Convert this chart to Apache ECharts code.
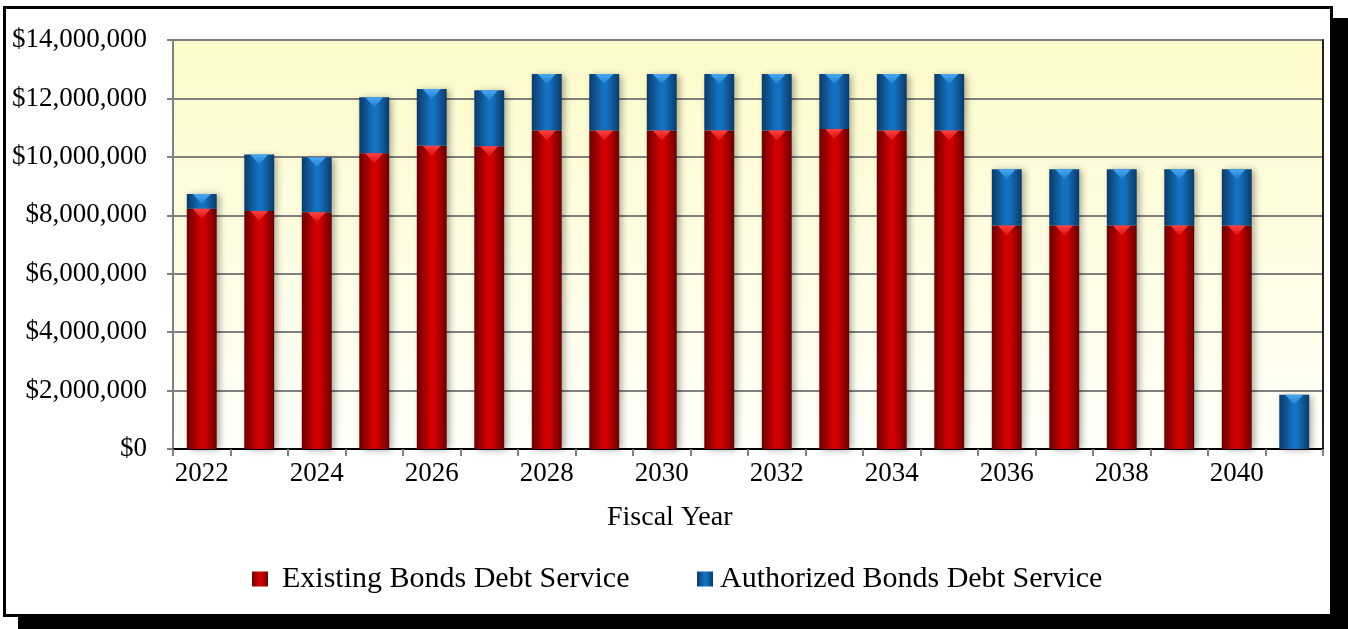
<!DOCTYPE html>
<html>
<head>
<meta charset="utf-8">
<script src="https://cdn.jsdelivr.net/npm/echarts@6/dist/echarts.min.js"></script>
<style>
  html, body { margin: 0; padding: 0; background: #fff; }
  #frame { position: absolute; left: 3px; top: 6px; width: 1330px; height: 611px; box-sizing: border-box;
           border: 3px solid #000; background: #fff; box-shadow: 15px 12px 0 0 #000; }
  #chart { position: absolute; left: 0; top: 0; width: 1348px; height: 629px; }
</style>
</head>
<body>
<div id="frame"></div>
<div id="chart"></div>
<script>
const years = ['2022','2023','2024','2025','2026','2027','2028','2029','2030','2031','2032','2033','2034','2035','2036','2037','2038','2039','2040','2041'];
const existingBonds = [8220000, 8150000, 8100000, 10120000, 10380000, 10360000, 10900000, 10900000, 10900000, 10900000, 10900000, 10950000, 10900000, 10900000, 7650000, 7650000, 7650000, 7650000, 7650000, 0];
const authorizedBonds = [510000, 1930000, 1890000, 1920000, 1940000, 1920000, 1940000, 1940000, 1940000, 1940000, 1940000, 1890000, 1940000, 1940000, 1930000, 1930000, 1930000, 1930000, 1930000, 1860000];
const yTicks = { min: 0, max: 14000000, interval: 2000000 };
const seriesNames = ['Existing Bonds Debt Service', 'Authorized Bonds Debt Service'];

// cumulative tops (for the bevel decoration), built from the arrays above
const redTops = existingBonds.map(v => v > 0 ? v : '-');
const blueTops = existingBonds.map((v, i) => authorizedBonds[i] > 0 ? v + authorizedBonds[i] : '-');

const FONT = '"Liberation Serif", "Times New Roman", serif';
function hGrad(edge, mid) {
  return new echarts.graphic.LinearGradient(0, 0, 1, 0, [
    { offset: 0, color: edge }, { offset: 0.45, color: mid }, { offset: 0.6, color: mid }, { offset: 1, color: edge }
  ]);
}
const redFill = hGrad('#6a0000', '#d00000');
const blueFill = hGrad('#0b3a66', '#1470c0');
const BW = '52%';
const tri = 'path://M0,0 L20,0 L10,10 Z';

const chart = echarts.init(document.getElementById('chart'), null, { renderer: 'canvas' });
chart.setOption({
  backgroundColor: 'transparent',
  animation: false,
  grid: {
    left: 173, right: 25, top: 40, bottom: 180, show: true,
    backgroundColor: new echarts.graphic.LinearGradient(0, 0, 0, 1, [
      { offset: 0, color: '#fdfbc9' }, { offset: 1, color: '#fffffa' }
    ]),
    borderWidth: 0
  },
  legend: [{
    data: [seriesNames[0]],
    left: 247, top: 559,
    itemWidth: 16, itemHeight: 15,
    icon: 'rect',
    textStyle: { fontFamily: FONT, fontSize: 30, color: '#000', padding: [0, 0, 0, 9] }
  }, {
    data: [seriesNames[1]],
    left: 692, top: 559,
    itemWidth: 16, itemHeight: 15,
    icon: 'rect',
    textStyle: { fontFamily: FONT, fontSize: 30, color: '#000', padding: [0, 0, 0, 2] }
  }],
  graphic: [{
    type: 'text', left: 607, top: 504,
    style: { text: 'Fiscal Year', font: '28px ' + FONT, fill: '#000' }
  }],
  xAxis: [{
    type: 'category', data: years, position: 'bottom',
    axisLine: { lineStyle: { color: '#808080', width: 2 } },
    axisTick: { show: true, interval: 0, length: 7, lineStyle: { color: '#808080', width: 2 } },
    axisLabel: { interval: 1, margin: 11, fontFamily: FONT, fontSize: 27, color: '#000' }
  }, {
    type: 'category', data: years, position: 'top',
    axisLine: { lineStyle: { color: '#000', width: 2 } },
    axisTick: { show: false }, axisLabel: { show: false }
  }],
  yAxis: [{
    type: 'value', min: yTicks.min, max: yTicks.max, interval: yTicks.interval,
    axisLine: { show: true, lineStyle: { color: '#808080', width: 2 } },
    axisTick: { show: true, length: 6, lineStyle: { color: '#808080', width: 2 } },
    splitLine: { lineStyle: { color: '#808080', width: 2 } },
    axisLabel: {
      margin: 26, fontFamily: FONT, fontSize: 27, color: '#000',
      formatter: v => '$' + v.toLocaleString('en-US')
    }
  }, {
    type: 'value', min: yTicks.min, max: yTicks.max, interval: yTicks.interval, position: 'right',
    axisLine: { show: true, lineStyle: { color: '#222', width: 2 } },
    axisTick: { show: false }, axisLabel: { show: false }, splitLine: { show: false }
  }],
  series: [{
    name: seriesNames[0], type: 'bar', stack: 'total', data: existingBonds, barWidth: BW,
    itemStyle: { color: redFill, shadowBlur: 7, shadowColor: 'rgba(0,0,0,0.35)', shadowOffsetX: 3, shadowOffsetY: 1 }
  }, {
    name: seriesNames[1], type: 'bar', stack: 'total', data: authorizedBonds, barWidth: BW,
    itemStyle: { color: blueFill, shadowBlur: 7, shadowColor: 'rgba(0,0,0,0.35)', shadowOffsetX: 3, shadowOffsetY: 1 }
  }, {
    type: 'pictorialBar', data: redTops, barWidth: BW, barGap: '-100%', z: 5, silent: true,
    symbol: tri, symbolSize: ['60%', 10], symbolPosition: 'end', symbolOffset: [0, 0],
    itemStyle: { color: new echarts.graphic.LinearGradient(0, 0, 0, 1, [
      { offset: 0, color: '#ff4040' }, { offset: 1, color: '#d81010' }]) }
  }, {
    type: 'pictorialBar', data: blueTops, barWidth: BW, barGap: '-100%', z: 5, silent: true,
    symbol: tri, symbolSize: ['60%', 10], symbolPosition: 'end', symbolOffset: [0, 0],
    itemStyle: { color: new echarts.graphic.LinearGradient(0, 0, 0, 1, [
      { offset: 0, color: '#4aa8f0' }, { offset: 1, color: '#1c7fd0' }]) }
  }]
});
</script>
</body>
</html>
